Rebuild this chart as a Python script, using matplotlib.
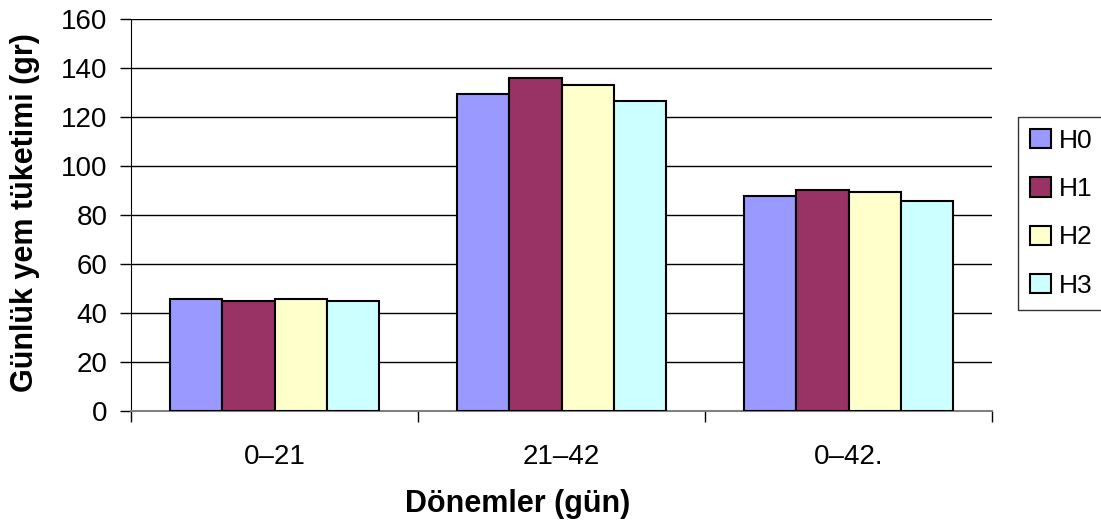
import numpy as np
import matplotlib
matplotlib.use("Agg")
import matplotlib.pyplot as plt

plt.rcParams["font.family"] = ["Liberation Sans", "DejaVu Sans"]

periods = ["0–21", "21–42", "0–42."]
series = ["H0", "H1", "H2", "H3"]
H0 = [45.6, 129.3, 87.6]
H1 = [44.7, 136.1, 90.3]
H2 = [45.6, 133.0, 89.4]
H3 = [44.7, 126.6, 85.9]
colors = ["#9999FF", "#993366", "#FFFFCC", "#CCFFFF"]

fig = plt.figure(figsize=(11.01, 5.30), dpi=100)
ax = fig.add_axes([131 / 1101, 1 - 411 / 530, 861 / 1101, 392 / 530])

x = np.arange(len(periods))
w = 0.182
for i, (name, vals) in enumerate(zip(series, [H0, H1, H2, H3])):
    ax.bar(x + (i - 1.5) * w, vals, width=w, color=colors[i],
           edgecolor="black", linewidth=1.5, label=name, zorder=3)

ax.set_xlim(-0.5, 2.5)
ax.set_ylim(0, 160)
ax.set_yticks(range(0, 161, 20))
ax.yaxis.grid(True, color="black", linewidth=1, zorder=0)
ax.set_xticks(x)
ax.set_xticklabels(periods, fontsize=20)
ax.set_xticks([-0.5, 0.5, 1.5, 2.5], minor=True)
ax.tick_params(axis="x", which="major", length=0, pad=24)
ax.tick_params(axis="x", which="minor", length=8, width=1, color="black")
ax.tick_params(axis="y", length=8, width=1, labelsize=20, pad=9)

for s in ["top", "right"]:
    ax.spines[s].set_visible(False)
ax.spines["left"].set_color("black")
ax.spines["bottom"].set_color("#808080")
ax.spines["bottom"].set_linewidth(1.5)

ax.set_ylabel("Günlük yem tüketimi (gr)", fontsize=22, fontweight="bold")
ax.yaxis.set_label_coords((40 - 131) / 861, 0.505)
ax.set_xlabel("Dönemler (gün)", fontsize=22, fontweight="bold")
ax.xaxis.set_label_coords((518 - 131) / 861, (411 - 489) / 392)
ax.xaxis.label.set_verticalalignment("top")

leg = ax.legend(loc="upper left", bbox_to_anchor=(1018 / 1101, 1 - 117 / 530),
                bbox_transform=fig.transFigure,
                fontsize=19, frameon=True, fancybox=False, edgecolor="black",
                handlelength=0.8, handleheight=0.75, handletextpad=0.3,
                labelspacing=0.92, borderpad=0.45, borderaxespad=0)
leg.get_frame().set_linewidth(1)
for h in leg.legend_handles:
    h.set_linewidth(1.5)

fig.savefig("out.png", dpi=100)
